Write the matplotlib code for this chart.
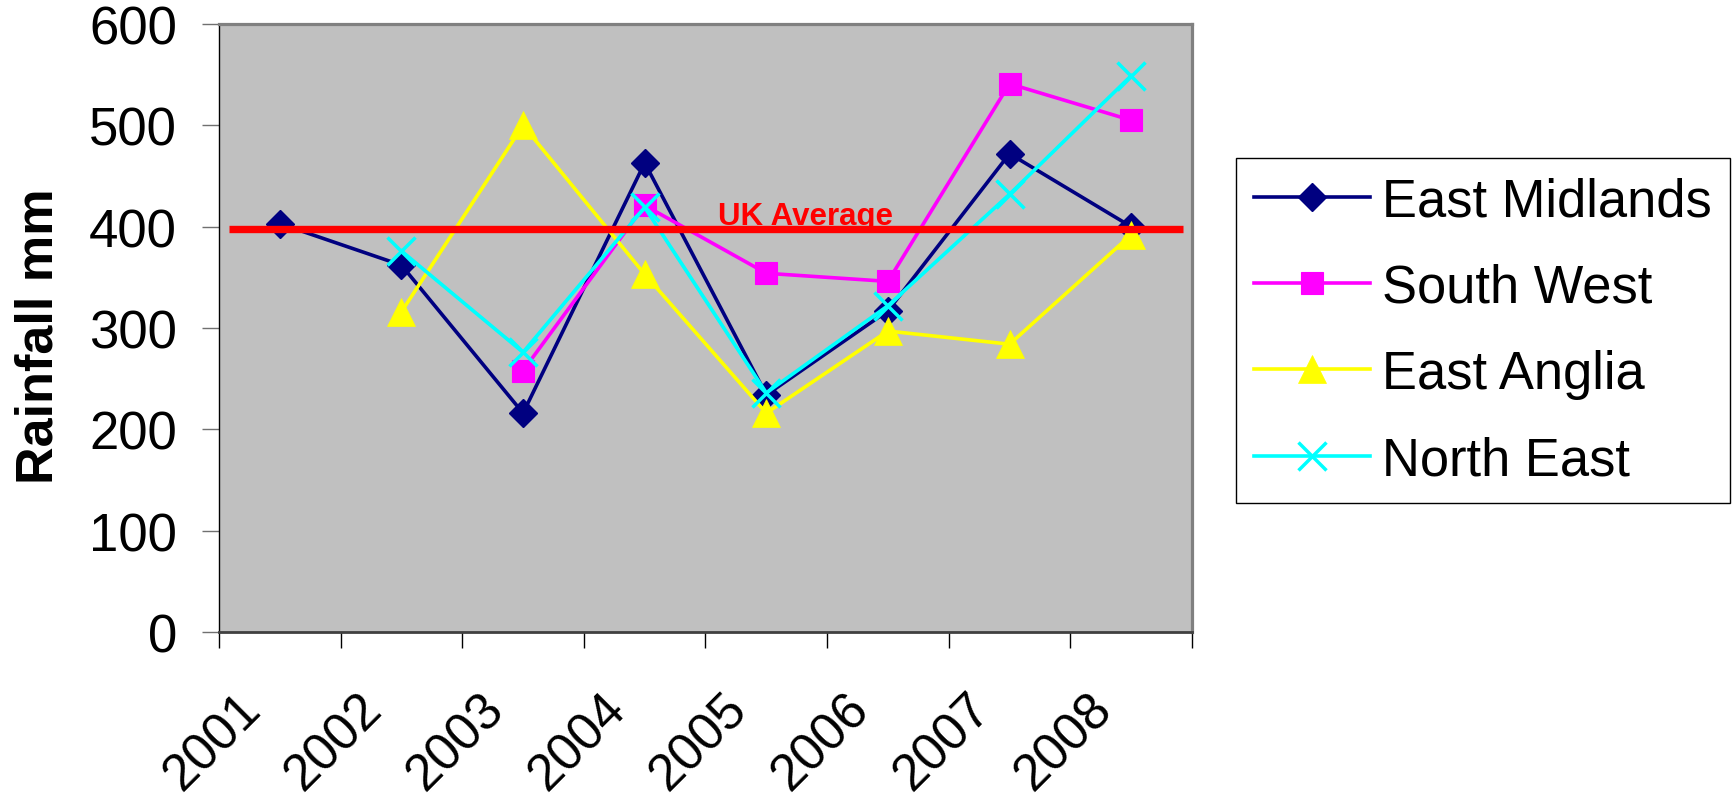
import numpy as np
import matplotlib
matplotlib.use("Agg")
import matplotlib.pyplot as plt
from matplotlib.transforms import ScaledTranslation

# Rainfall by region, 2001-2008 (mm)
years = ["2001", "2002", "2003", "2004", "2005", "2006", "2007", "2008"]
east_midlands = [403, 362, 216, 463, 234, 317, 472, 400]
south_west = [np.nan, np.nan, 258, 421, 354, 346, 541, 505]
east_anglia = [np.nan, 316, 500, 353, 216, 297, 284, 392]
north_east = [np.nan, 376, 276, 419, 236, 322, 432, 549]
uk_average = 398
y_ticks = [0, 100, 200, 300, 400, 500, 600]

plt.rcParams["font.family"] = ["Liberation Sans", "DejaVu Sans"]

fig = plt.figure(figsize=(17.36, 8.04), dpi=100)
ax = fig.add_axes([219 / 1736, 1 - 633 / 804, (1192 - 219) / 1736, (633 - 25) / 804])
ax.set_facecolor("#C0C0C0")

x = np.arange(len(years)) + 0.5

series = [
    ("East Midlands", east_midlands, "#000080", dict(marker="D", ms=14, mew=1)),
    ("South West", south_west, "#FF00FF", dict(marker="s", ms=16, mew=0.8)),
    ("East Anglia", east_anglia, "#FFFF00", dict(marker="^", ms=20.5, mew=0.5)),
    ("North East", north_east, "#00FFFF", dict(marker="x", ms=20, mew=2.5)),
]
for i, (name, vals, col, mk) in enumerate(series):
    ax.plot(x, vals, color=col, lw=2.6, mfc=col, mec=col, label=name,
            zorder=3 + i, clip_on=False, **mk)

# UK average reference line with its label
ax.hlines(uk_average, 0.08, 7.93, color="#FF0000", lw=5.3, zorder=10)
ax.annotate("UK Average", xy=(4.1, uk_average), xytext=(0, 5),
            textcoords="offset pixels", color="#FF0000", fontsize=22.5,
            fontweight="bold", ha="left", va="baseline", zorder=2)

# Axes limits and frame
ax.set_xlim(0, len(years))
ax.set_ylim(0, 600)
for side in ("top", "right"):
    ax.spines[side].set_color("#808080")
    ax.spines[side].set_linewidth(2.3)
ax.spines["left"].set_color("black")
ax.spines["left"].set_linewidth(1.0)
ax.spines["bottom"].set_color("#404040")
ax.spines["bottom"].set_linewidth(2.0)

# Y axis
ax.set_yticks(y_ticks)
ax.set_yticklabels([str(v) for v in y_ticks])
ax.tick_params(axis="y", direction="out", length=12.2, width=1.0,
               color="#707070", labelsize=38, pad=18)

# X axis: boundary tick marks (minor) and rotated year labels (major)
ax.set_xticks(np.arange(len(years) + 1), minor=True)
ax.set_xticks(x)
ax.set_xticklabels(years)
ax.tick_params(axis="x", which="minor", direction="out", length=11.5,
               width=1.0, color="black")
ax.tick_params(axis="x", which="major", length=0, labelsize=37, pad=57)
offset = ScaledTranslation(-0.17, 0, fig.dpi_scale_trans)
for lab in ax.get_xticklabels():
    lab.set_rotation(45)
    lab.set_rotation_mode("anchor")
    lab.set_ha("right")
    lab.set_va("baseline")
    lab.set_transform(lab.get_transform() + offset)

ax.set_ylabel("Rainfall mm", fontsize=37.5, fontweight="bold")
ax.yaxis.set_label_coords(-0.160, 0.489)

leg = ax.legend(loc="upper left", bbox_to_anchor=(1236 / 1736, 1 - 159 / 804),
                bbox_transform=fig.transFigure, borderaxespad=0,
                fontsize=37.8, frameon=True, fancybox=False, shadow=False,
                handlelength=2.2, handletextpad=0.23, borderpad=0.35,
                labelspacing=0.69, numpoints=1)
frame = leg.get_frame()
frame.set_edgecolor("black")
frame.set_linewidth(1.0)
frame.set_facecolor("white")
frame.set_alpha(1)

fig.savefig("out.png", dpi=100, facecolor="white")
